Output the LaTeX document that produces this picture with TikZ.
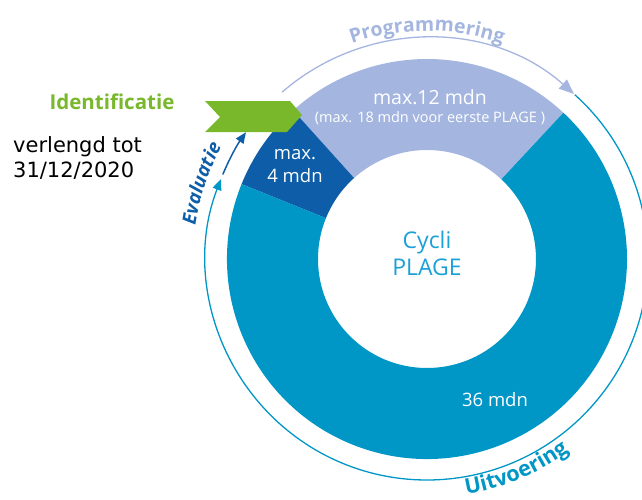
\documentclass[tikz,border=0pt]{standalone}
\usepackage{fontspec}
\setmainfont{Open Sans}
\newfontfamily\vfont{DejaVu Sans}
\usetikzlibrary{arrows.meta,decorations.text}
\definecolor{lb}{HTML}{A4B6DF}
\definecolor{db}{HTML}{0E5DA8}
\definecolor{tl}{HTML}{0096C6}
\definecolor{gr}{HTML}{78B82A}
\definecolor{cy}{HTML}{1BA0D8}
\begin{document}
\begin{tikzpicture}[
  ringlabel/.style={text=white, align=center, inner sep=0pt, font=\fontsize{18.5}{23}\selectfont},
  cyclearc/.style={line width=1.3pt},
  bigtip/.style={-{Triangle[length=15pt,width=12pt]}},
  smalltip/.style={-{Triangle[length=11pt,width=9pt]}},
]
\useasboundingbox (-427pt,-240pt) rectangle (215pt,259pt);
\coordinate (C) at (0pt,0pt);
% ring segments
\fill[lb] (47:200pt) arc[start angle=47,end angle=132,radius=200pt] -- (132:109pt) arc[start angle=132,end angle=47,radius=109pt] -- cycle;
\fill[db] (132:200pt) arc[start angle=132,end angle=158,radius=200pt] -- (158:109pt) arc[start angle=158,end angle=132,radius=109pt] -- cycle;
\fill[tl] (158:200pt) arc[start angle=158,end angle=407,radius=200pt] -- (407:109pt) arc[start angle=407,end angle=158,radius=109pt] -- cycle;
% cycle arcs
\draw[lb, cyclearc, bigtip] (131:221pt) arc[start angle=131,end angle=48.3,radius=221pt];
\draw[tl, cyclearc, smalltip] (48:221pt) arc[start angle=48,end angle=-201.2,radius=221pt];
\draw[db, line width=1.5pt, smalltip] (157.5:221pt) arc[start angle=157.5,end angle=145,radius=221pt];
% banner
\fill[gr] (-222pt,158pt) -- (-137pt,158pt) -- (-125pt,144pt) -- (-140pt,127pt) -- (-222pt,127pt) -- (-207pt,142pt) -- cycle;
% curved labels
\path[decorate, decoration={text along path, text align=center, text color=lb,
  text={|\bfseries\fontsize{19.5}{19.5}\selectfont|Programmering}}]
  (112:228pt) arc[start angle=112,end angle=68,radius=228pt];
\path[decorate, decoration={text along path, text align=center, text color=tl,
  text={|\bfseries\fontsize{21.5}{21.5}\selectfont|Uitvoering}}]
  (-87:239pt) arc[start angle=-87,end angle=-47,radius=239pt];
\path[decorate, decoration={text along path, text align=center, text color=db,
  text={|\bfseries\itshape\fontsize{19}{19}\selectfont|Evaluatie}}]
  (182:234pt) arc[start angle=182,end angle=141,radius=234pt];
% texts
\node[font=\bfseries\fontsize{20.5}{20.5}\selectfont, text=gr, inner sep=0pt] (ident) at (-315pt,157pt) {Identificatie};
\node[font=\vfont\fontsize{21}{25}\selectfont, align=left, anchor=west, inner sep=0pt] (verl) at (-414pt,101.5pt) {verlengd tot\\31/12/2020};
\node[ringlabel, font=\fontsize{19.5}{23}\selectfont] (max12) at (3pt,162pt) {max.12 mdn};
\node[text=white, inner sep=0pt, font=\fontsize{14.5}{16}\selectfont] (max18) at (3pt,141pt) {(max. 18 mdn voor eerste PLAGE )};
\node[ringlabel] (max4) at (-132pt,93pt) {max.\\4 mdn};
\node[text=cy, align=center, inner sep=0pt, font=\fontsize{23}{27}\selectfont] (cycli) at (0pt,6pt) {Cycli\\PLAGE};
\node[ringlabel] (m36) at (68pt,-141pt) {36 mdn};
\end{tikzpicture}
\end{document}
